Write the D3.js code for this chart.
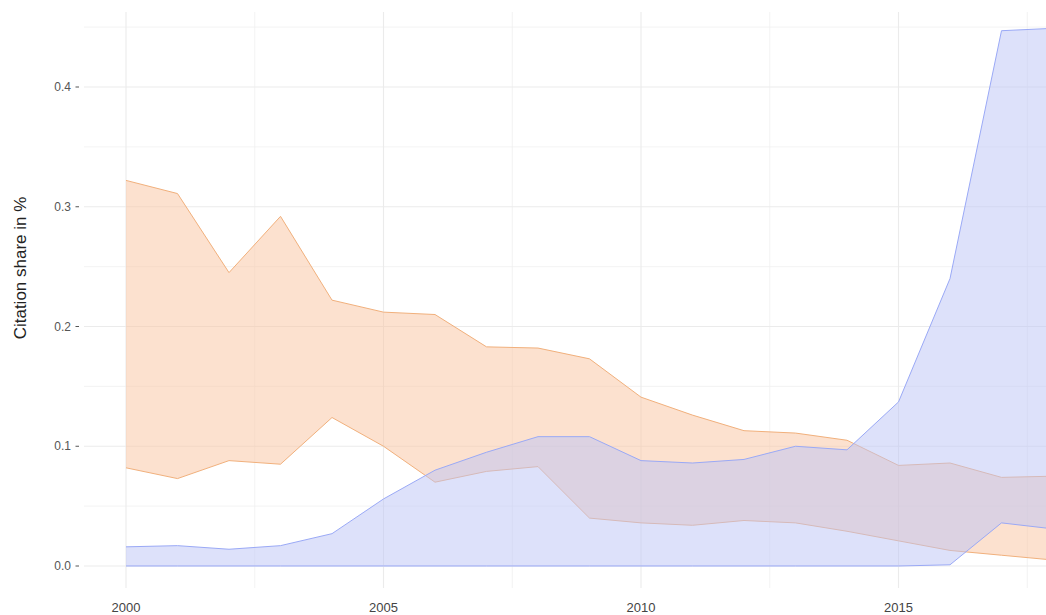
<!DOCTYPE html>
<html>
<head>
<meta charset="utf-8">
<script src="https://cdn.jsdelivr.net/npm/d3@7"></script>
<style>
  body { margin: 0; background: #fff; }
  svg { display: block; font-family: "Liberation Sans", Arial, sans-serif; }
</style>
</head>
<body>
<div id="chart"></div>
<script>
// years on the x axis
var years = [2000, 2001, 2002, 2003, 2004, 2005, 2006, 2007, 2008, 2009,
             2010, 2011, 2012, 2013, 2014, 2015, 2016, 2017, 2018];

// orange band (lower / upper bound)
var orangeLow  = [0.082, 0.073, 0.088, 0.085, 0.124, 0.100, 0.070, 0.079, 0.083, 0.040,
                  0.036, 0.034, 0.038, 0.036, 0.029, 0.021, 0.013, 0.009, 0.005];
var orangeHigh = [0.322, 0.311, 0.245, 0.292, 0.222, 0.212, 0.210, 0.183, 0.182, 0.173,
                  0.141, 0.126, 0.113, 0.111, 0.105, 0.084, 0.086, 0.074, 0.075];

// blue band (lower / upper bound)
var blueLow  = [0, 0, 0, 0, 0, 0, 0, 0, 0, 0,
                0, 0, 0, 0, 0, 0, 0.001, 0.036, 0.031];
var blueHigh = [0.016, 0.017, 0.014, 0.017, 0.027, 0.056, 0.080, 0.095, 0.108, 0.108,
                0.088, 0.086, 0.089, 0.100, 0.097, 0.137, 0.240, 0.447, 0.449];

var xTicks = [2000, 2005, 2010, 2015];
var xMinor = [2002.5, 2007.5, 2012.5, 2017.5];
var yTicks = [0, 0.1, 0.2, 0.3, 0.4];
var yMinor = [0.05, 0.15, 0.25, 0.35, 0.45];

var W = 1046, H = 615;
var panel = {left: 84, top: 12, bottom: 588, right: 1046};

var svg = d3.select("#chart")
  .append("svg")
    .attr("width", W)
    .attr("height", H);

var x = d3.scaleLinear()
  .domain([2000, 2018])
  .range([126, 1053]);

var y = d3.scaleLinear()
  .domain([0, 0.4])
  .range([566, 87]);

// grid lines (minor first, then major)
var grid = svg.append("g");
grid.selectAll(".ymin").data(yMinor).enter().append("line")
  .attr("x1", panel.left).attr("x2", panel.right)
  .attr("y1", d => y(d)).attr("y2", d => y(d))
  .attr("stroke", "#f0f0f0").attr("stroke-width", 0.8);
grid.selectAll(".xmin").data(xMinor).enter().append("line")
  .attr("x1", d => x(d)).attr("x2", d => x(d))
  .attr("y1", panel.top).attr("y2", panel.bottom)
  .attr("stroke", "#f0f0f0").attr("stroke-width", 0.8);
grid.selectAll(".ymaj").data(yTicks).enter().append("line")
  .attr("x1", panel.left).attr("x2", panel.right)
  .attr("y1", d => y(d)).attr("y2", d => y(d))
  .attr("stroke", "#ebebeb").attr("stroke-width", 1.1);
grid.selectAll(".xmaj").data(xTicks).enter().append("line")
  .attr("x1", d => x(d)).attr("x2", d => x(d))
  .attr("y1", panel.top).attr("y2", panel.bottom)
  .attr("stroke", "#ebebeb").attr("stroke-width", 1.1);

// build ribbons
function ribbon(lo, hi) {
  return years.map(function(yr, i) { return {year: yr, lo: lo[i], hi: hi[i]}; });
}

var area = d3.area()
  .x(d => x(d.year))
  .y0(d => y(d.lo))
  .y1(d => y(d.hi));
var lineLo = d3.line().x(d => x(d.year)).y(d => y(d.lo));
var lineHi = d3.line().x(d => x(d.year)).y(d => y(d.hi));

var bands = [
  {data: ribbon(orangeLow, orangeHigh), fill: "rgb(250,196,160)", stroke: "#f1b07c"},
  {data: ribbon(blueLow, blueHigh), fill: "rgb(188,196,246)", stroke: "#9aa9f6"}
];

bands.forEach(function(b) {
  var g = svg.append("g");
  g.append("path")
    .datum(b.data)
    .attr("d", area)
    .attr("fill", b.fill)
    .attr("fill-opacity", 0.5);
  g.append("path").datum(b.data).attr("d", lineLo)
    .attr("fill", "none").attr("stroke", b.stroke).attr("stroke-width", 1);
  g.append("path").datum(b.data).attr("d", lineHi)
    .attr("fill", "none").attr("stroke", b.stroke).attr("stroke-width", 1);
});

// y axis labels + small ticks
var yAxis = svg.append("g");
yAxis.selectAll("text").data(yTicks).enter().append("text")
  .attr("x", 71)
  .attr("y", d => y(d))
  .attr("dy", "0.35em")
  .attr("text-anchor", "end")
  .attr("fill", "#555")
  .style("font-size", "12px")
  .text(d => d3.format(".1f")(d));
yAxis.selectAll("line").data(yTicks).enter().append("line")
  .attr("x1", 75.5).attr("x2", 79)
  .attr("y1", d => y(d)).attr("y2", d => y(d))
  .attr("stroke", "#555").attr("stroke-width", 1);

// x axis labels
svg.append("g").selectAll("text").data(xTicks).enter().append("text")
  .attr("x", d => x(d))
  .attr("y", 607)
  .attr("dy", "0.35em")
  .attr("text-anchor", "middle")
  .attr("fill", "#444")
  .style("font-size", "13px")
  .text(d => d);

// y axis title
svg.append("text")
  .attr("transform", "translate(20,268) rotate(-90)")
  .attr("text-anchor", "middle")
  .attr("dy", "0.35em")
  .attr("fill", "#222")
  .style("font-size", "17px")
  .text("Citation share in %");
</script>
</body>
</html>
